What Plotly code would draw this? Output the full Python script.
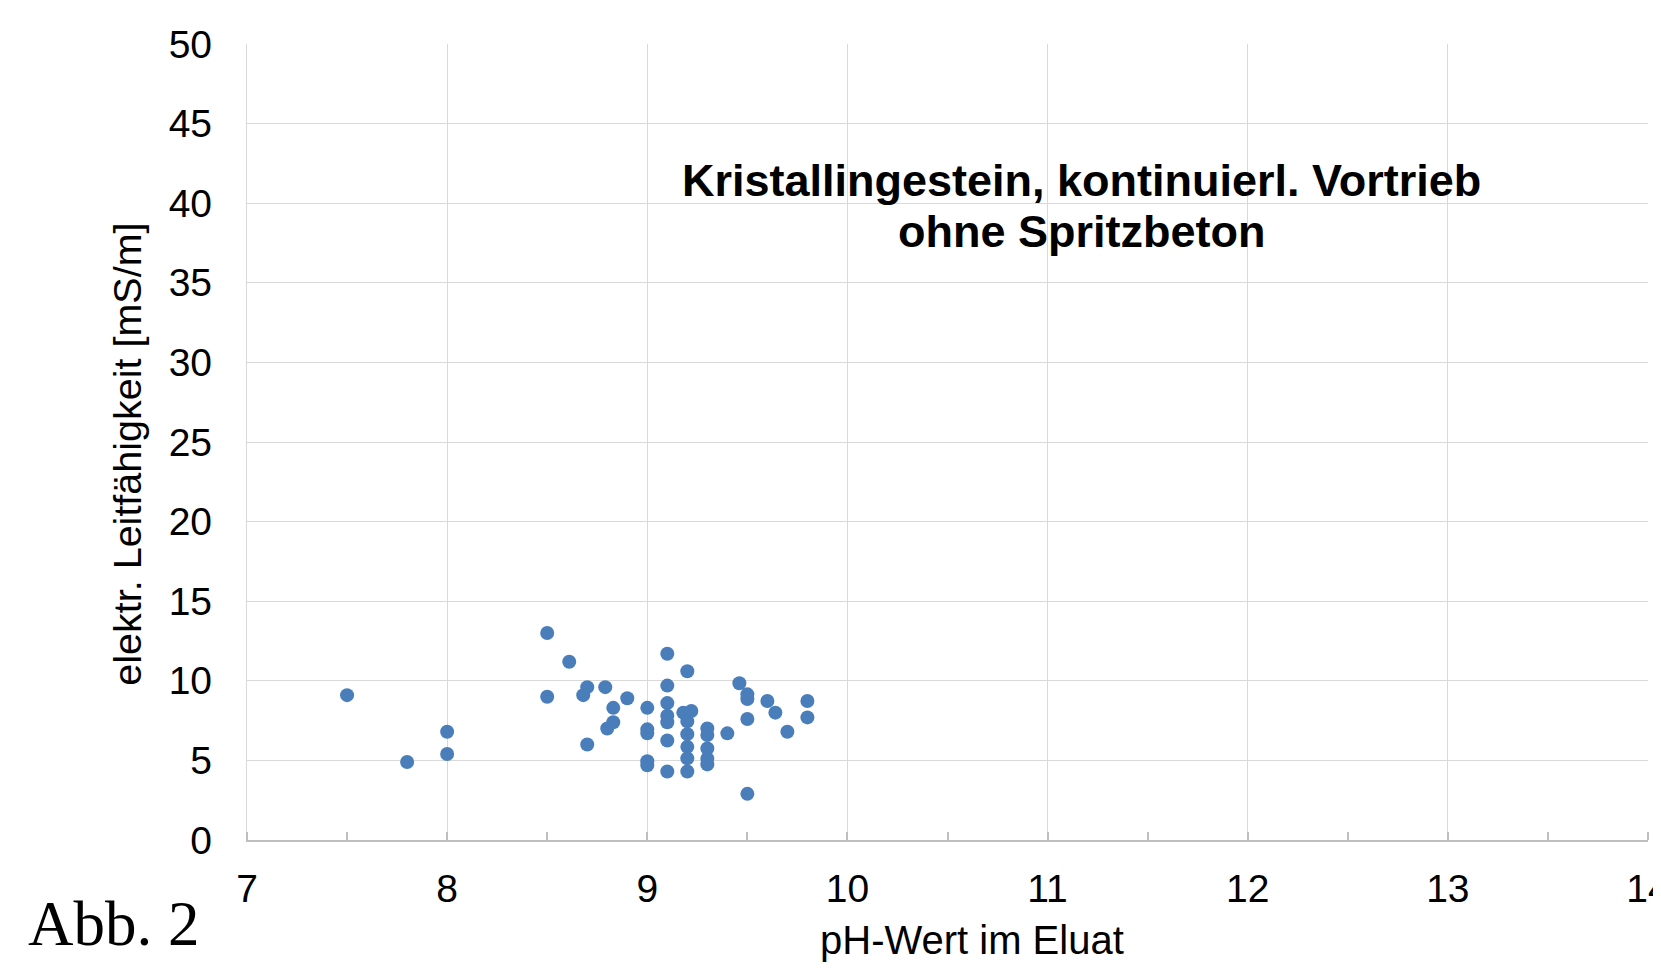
import plotly.graph_objects as go

# pH value in the eluate
ph = [7.5, 7.8, 8.0, 8.0, 8.5, 8.5, 8.61, 8.68, 8.7, 8.7, 8.79, 8.8, 8.83, 8.83, 8.9,
      9.0, 9.0, 9.0, 9.0, 9.0,
      9.1, 9.1, 9.1, 9.1, 9.1, 9.1, 9.1,
      9.2, 9.18, 9.22, 9.2, 9.2, 9.2, 9.2, 9.2,
      9.3, 9.3, 9.3, 9.3, 9.3,
      9.4, 9.46, 9.5, 9.5, 9.5, 9.5, 9.6, 9.64, 9.7, 9.8, 9.8]
# electrical conductivity [mS/m]
lf = [9.1, 4.9, 6.8, 5.4, 13.0, 9.0, 11.2, 9.1, 9.6, 6.0, 9.6, 7.0, 7.4, 8.3, 8.9,
      8.3, 6.95, 6.7, 4.95, 4.7,
      11.7, 9.7, 8.6, 7.8, 7.4, 6.25, 4.3,
      10.6, 8.0, 8.1, 7.45, 6.65, 5.85, 5.13, 4.3,
      7.0, 6.6, 5.75, 5.1, 4.75,
      6.7, 9.85, 9.15, 8.85, 7.6, 2.9, 8.73, 8.0, 6.8, 8.73, 7.7]

x_ticks = [7, 8, 9, 10, 11, 12, 13, 14]
y_ticks = [0, 5, 10, 15, 20, 25, 30, 35, 40, 45, 50]

title_l1 = "Kristallingestein, kontinuierl. Vortrieb"
title_l2 = "ohne Spritzbeton"
x_title = "pH-Wert im Eluat"
y_title = "elektr. Leitfähigkeit [mS/m]"
fig_label = "Abb. 2"

FONT = "Liberation Sans, Arial, sans-serif"
GRID = "#d9d9d9"

fig = go.Figure()
fig.add_trace(go.Scatter(
    x=ph, y=lf, mode="markers",
    marker=dict(size=14, color="#4a7ebb", line=dict(width=0)),
    showlegend=False, hoverinfo="x+y",
))

# the page body has an 8px default margin, so the figure is 8px smaller
fig.update_layout(
    width=1653, height=965,
    margin=dict(l=238.5, r=13.3, t=35.7, b=133, autoexpand=False),
    paper_bgcolor="white", plot_bgcolor="white",
    font=dict(family=FONT, color="black", size=38),
)

fig.update_xaxes(
    range=[7, 14], tickvals=x_ticks, ticktext=[str(v) for v in x_ticks],
    showgrid=True, gridcolor=GRID, gridwidth=1.3,
    showline=True, linecolor="#bfbfbf", linewidth=1.5, mirror=False,
    ticks="", ticklabelstandoff=13, ticklabeloverflow="allow",
    tickfont=dict(size=39, family=FONT, color="black"),
    minor=dict(dtick=0.5, ticks="inside", ticklen=8, tickcolor="#bfbfbf",
               tickwidth=1.5, showgrid=False),
    zeroline=False,
)
fig.update_yaxes(
    range=[0, 50], tickvals=y_ticks, ticktext=[str(v) for v in y_ticks],
    showgrid=True, gridcolor=GRID, gridwidth=1.3,
    showline=True, linecolor=GRID, linewidth=1.3,
    ticks="", ticklabelstandoff=26, ticklabeloverflow="allow",
    tickfont=dict(size=39, family=FONT, color="black"),
    zeroline=False,
)

ann = []
ann.append(dict(text="<b>" + title_l1 + "</b>", xref="paper", yref="paper",
                x=0.5958, y=0.8288, xanchor="center", yanchor="middle",
                showarrow=False, font=dict(size=45, family=FONT, color="black")))
ann.append(dict(text="<b>" + title_l2 + "</b>", xref="paper", yref="paper",
                x=0.5958, y=0.7648, xanchor="center", yanchor="middle",
                showarrow=False, font=dict(size=45, family=FONT, color="black")))
ann.append(dict(text=x_title, xref="paper", yref="paper",
                x=0.5178, y=-0.1256, xanchor="center", yanchor="middle",
                showarrow=False, font=dict(size=40, family=FONT, color="black")))
ann.append(dict(text=y_title, xref="paper", yref="paper",
                x=-0.0853, y=0.4847, xanchor="center", yanchor="middle",
                textangle=-90, showarrow=False,
                font=dict(size=39.5, family=FONT, color="black")))
ann.append(dict(text=fig_label, xref="paper", yref="paper",
                x=-0.1575, y=-0.1055, xanchor="left", yanchor="middle",
                showarrow=False,
                font=dict(size=63, family="Liberation Serif, Times New Roman, serif",
                          color="black")))
fig.update_layout(annotations=ann)

fig.write_html("out.html")
